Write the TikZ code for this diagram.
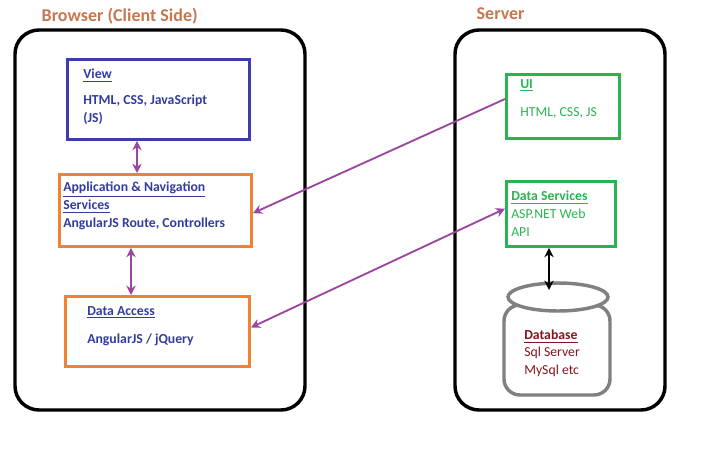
\documentclass[tikz,border=0pt]{standalone}
\usepackage{fontspec}
\setmainfont{Carlito}
\usetikzlibrary{arrows.meta,shapes.geometric}
\definecolor{titlec}{RGB}{196,120,80}
\definecolor{txtblue}{RGB}{50,60,160}
\definecolor{boxblue}{RGB}{60,60,170}
\definecolor{boxorange}{RGB}{240,130,50}
\definecolor{boxgreen}{RGB}{40,180,80}
\definecolor{arrowc}{RGB}{155,70,160}
\definecolor{dbred}{RGB}{130,20,30}
\tikzset{
  tier/.style={draw=black, line width=2.6pt, rounded corners=18pt},
  comp/.style={draw, line width=2.2pt, anchor=north west, inner sep=0pt},
  lbl/.style={anchor=north west, inner sep=0pt, align=left, font=\bfseries\fontsize{10.3}{13.5}\selectfont, text=txtblue},
  link/.style={draw=arrowc, line width=1.4pt, -{Stealth[length=7pt,width=7pt]}},
  dlink/.style={link, {Stealth[length=7pt,width=7pt]}-{Stealth[length=7pt,width=7pt]}}
}
\begin{document}
\begin{tikzpicture}[x=0.75pt,y=0.75pt,yscale=-1,xscale=1]
\useasboundingbox (0,0) rectangle (705,460);

% tiers
\draw [tier] (15,30) rectangle (305,410);
\draw [tier] (455,30) rectangle (665,410);
\node (browser) [anchor=west, text=titlec, font=\bfseries\fontsize{13.5}{15}\selectfont] at (37,16) {Browser (Client Side)};
\node (server) [anchor=west, text=titlec, font=\bfseries\fontsize{13.5}{15}\selectfont] at (472,14) {Server};

% client side
\node (view) [comp, draw=boxblue, minimum width=182*0.75pt, minimum height=80*0.75pt] at (66,58) {};
\node [lbl] at (83,69) {\underline{View}\\[6pt]HTML, CSS, JavaScript\\(JS)};
\node (app) [comp, draw=boxorange, minimum width=192*0.75pt, minimum height=72*0.75pt] at (58,173) {};
\node [lbl] at (63,182) {\underline{Application \& Navigation}\\\underline{Services}\\AngularJS Route, Controllers};
\node (access) [comp, draw=boxorange, minimum width=184*0.75pt, minimum height=70*0.75pt] at (64,295) {};
\node [lbl] at (87,306) {\underline{Data Access}\\[8pt]AngularJS / jQuery};

% server side
\node (ui) [comp, draw=boxgreen, minimum width=113*0.75pt, minimum height=64*0.75pt] at (505,73) {};
\node [lbl, text=boxgreen] at (520,79) {\underline{UI}\\[8pt]\mdseries HTML, CSS, JS};
\node (svc) [comp, draw=boxgreen, minimum width=109*0.75pt, minimum height=65*0.75pt] at (505,180) {};
\node [lbl, text=boxgreen] at (511,191) {\underline{Data Services}\\\mdseries ASP.NET Web\\\mdseries API};
\draw [draw=gray, line width=2.6pt, rounded corners=12pt] (504,305) rectangle (610,395);
\draw [draw=gray, line width=2.6pt, fill=white] (558,297) ellipse (50 and 14);
\coordinate (dbtop) at (549,290);
\node [lbl, text=dbred] at (524,330) {\underline{Database}\\[-1pt]\mdseries Sql Server\\\mdseries MySql etc};

% connectors
\draw [dlink] (view.south -| 137,0) -- (app.north -| 137,0);
\draw [dlink] (app.south -| 131,0) -- (access.north -| 131,0);
\draw [link] (ui.west) ++(0,-7.5) -- ([yshift=2pt]app.east);
\draw [dlink] ([yshift=-3pt]access.east) -- ([yshift=-4pt]svc.west);
\draw [{Stealth[length=7pt,width=7pt]}-{Stealth[length=7pt,width=7pt]}, line width=1.4pt] (svc.south -| dbtop) -- (dbtop);
\end{tikzpicture}
\end{document}
